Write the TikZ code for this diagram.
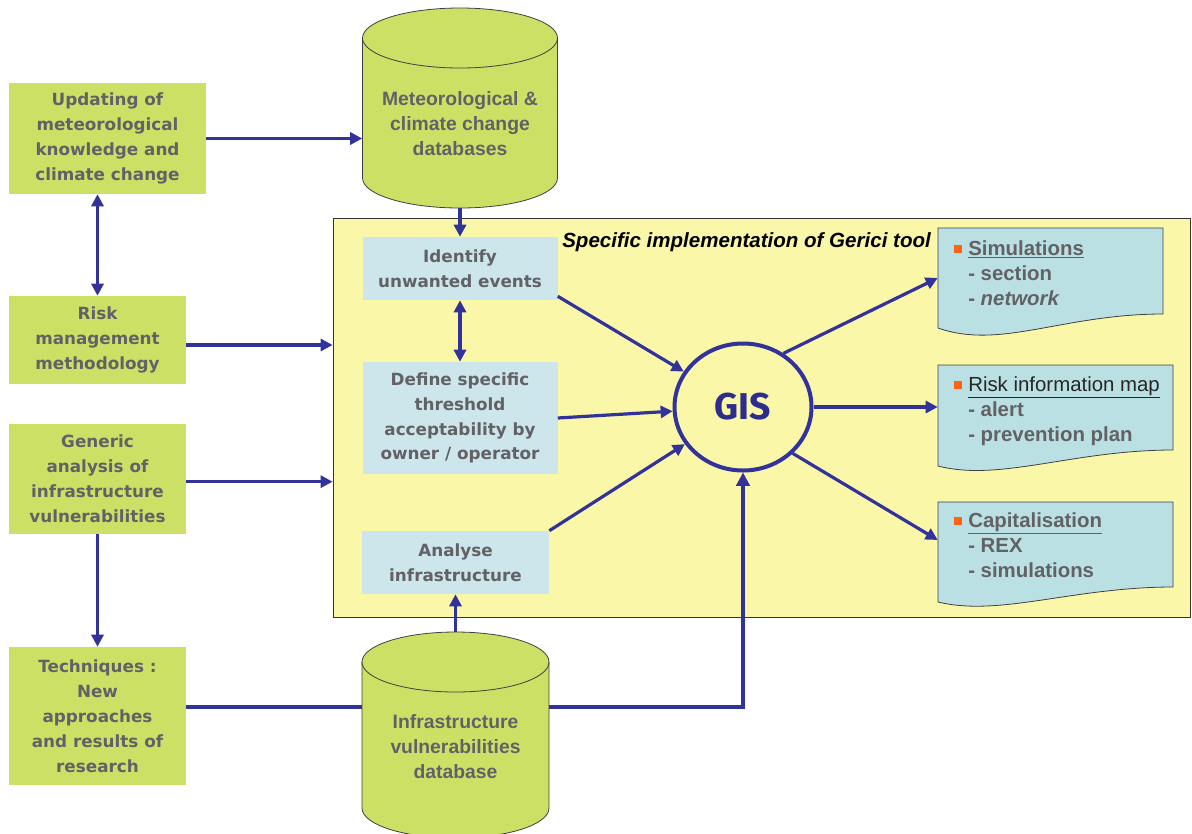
\documentclass[tikz,border=0pt]{standalone}
\usepackage{fontspec}
\setmainfont{Liberation Sans}
\newfontfamily\hum{DejaVu Sans}
\newfontfamily\gisfont{Fira Sans}
\usetikzlibrary{arrows.meta,shapes.geometric}
\definecolor{boxgreen}{RGB}{205,224,102}
\definecolor{panelyellow}{RGB}{250,247,168}
\definecolor{lightblue}{RGB}{204,230,235}
\definecolor{docblue}{RGB}{186,224,228}
\definecolor{arrowblue}{RGB}{50,50,155}
\definecolor{txtgray}{RGB}{98,98,102}
\definecolor{gisblue}{RGB}{45,45,140}
\definecolor{bulletorange}{RGB}{250,100,20}
\newcommand{\cylpath}[5]{%
  \filldraw[cylst] ({#1-#4},{#2+#5}) -- ({#1-#4},{#3-#5}) arc[start angle=180,end angle=0,x radius=#4,y radius=#5] -- ({#1+#4},{#2+#5}) arc[start angle=0,end angle=-180,x radius=#4,y radius=#5] -- cycle;
  \draw[cylst,fill=none] ({#1-#4},{#2+#5}) arc[start angle=180,end angle=0,x radius=#4,y radius=#5];}
\newcommand{\docpath}[6]{%
  \filldraw[docst] (#1,#2) -- (#3,#2) -- (#3,#5) .. controls ({#3-100},#5) and ({#1+62},#6) .. (#1,#4) -- cycle;}
\newcommand{\bul}{\llap{\textcolor{bulletorange}{\rule[1.5pt]{6pt}{6pt}}\hspace{5pt}}}
\begin{document}
\begin{tikzpicture}[x=0.75pt,y=-0.75pt,
  greenbox/.style={fill=boxgreen, align=center, text=txtgray, font=\hum\bfseries\fontsize{12.6}{18.8}\selectfont, inner sep=0pt},
  bluebox/.style={fill=lightblue, align=center, text=txtgray, font=\hum\bfseries\fontsize{12.6}{18.6}\selectfont, inner sep=0pt},
  cylst/.style={fill=boxgreen, draw=black!75, line width=0.6pt},
  cylholder/.style={inner sep=0pt, draw=none},
  cyltext/.style={align=center, text=txtgray, font=\bfseries\fontsize{14.5}{18.7}\selectfont, inner sep=0pt},
  docst/.style={fill=docblue, draw=black!75, line width=0.6pt},
  docholder/.style={inner sep=0pt, draw=none},
  doctext/.style={align=left, text=txtgray, font=\bfseries\fontsize{15.3}{18.75}\selectfont, inner sep=0pt, anchor=north west},
  arr/.style={draw=arrowblue, line width=2.4pt, -{Triangle[length=9pt,width=9pt]}},
  darr/.style={draw=arrowblue, line width=2.4pt, {Triangle[length=9pt,width=9pt]}-{Triangle[length=9pt,width=9pt]}},
  thickln/.style={draw=arrowblue, line width=3.6pt},
  thickarr/.style={draw=arrowblue, line width=3.2pt, -{Triangle[length=10pt,width=10pt]}}
]
\useasboundingbox[fill=white] (0,0) rectangle (1192,833);

% panel
\node[fill=panelyellow, draw=black!80, line width=0.6pt, minimum width=642.75pt, minimum height=299.25pt, inner sep=0pt] (panel) at (761.5,417.5) {};
\node[anchor=west, inner sep=0pt, font=\bfseries\itshape\fontsize{15.4}{17}\selectfont] (title) at (562,242) {Specific implementation of Gerici tool};

% left boxes
\node[greenbox, minimum width=147.75pt, minimum height=83.25pt] (box1) at (107.5,138.5) {Updating of\\meteorological\\knowledge and\\climate change};
\node[greenbox, minimum width=132.75pt, minimum height=66pt] (box2) at (97.5,340) {Risk\\management\\methodology};
\node[greenbox, minimum width=132.75pt, minimum height=82.5pt] (box3) at (97.5,479) {Generic\\analysis of\\infrastructure\\vulnerabilities};
\node[greenbox, minimum width=132.75pt, minimum height=103.5pt] (box4) at (97.5,716) {Techniques :\\New\\approaches\\and results of\\research};

% cylinders
\cylpath{460}{8}{208}{97.5}{30}
\node[cylholder, minimum width=146.25pt, minimum height=150pt] (met) at (460,108) {};
\node[cyltext] (mettxt) at (460,123.5) {Meteorological \&\\climate change\\databases};
\cylpath{455.5}{632}{838}{93.5}{30}
\node[cylholder, minimum width=140.25pt, minimum height=154.5pt] (infra) at (455.5,735) {};
\node[cyltext] (infratxt) at (455.5,747) {Infrastructure\\vulnerabilities\\database};

% inner boxes
\node[bluebox, minimum width=146.25pt, minimum height=47.25pt] (ident) at (460,268.5) {Identify\\unwanted events};
\node[bluebox, minimum width=146.25pt, minimum height=84pt] (define) at (460,418) {Define specific\\threshold\\acceptability by\\owner / operator};
\node[bluebox, minimum width=140.25pt, minimum height=47.25pt] (analyse) at (455.5,562.5) {Analyse\\infrastructure};

% GIS
\node[ellipse, draw=arrowblue, line width=3pt, minimum width=102.75pt, minimum height=95.25pt, inner sep=0pt, text=gisblue, font=\gisfont\bfseries\fontsize{28}{30}\selectfont] (gis) at (743,407) {GIS};

% documents
\docpath{938}{228}{1163}{328}{314}{350}
\node[docholder, minimum width=168.75pt, minimum height=75pt] (sim) at (1050.5,278) {};
\node[doctext] (simtxt) at (968,240) {\bul\underline{Simulations}\\- section\\- \textit{network}};
\docpath{938}{365}{1173}{466}{450}{482}
\node[docholder, minimum width=176.25pt, minimum height=75.75pt] (risk) at (1055.5,415.5) {};
\node[doctext] (risktxt) at (968,376) {\bul{\mdseries\color{black!85}\underline{Risk information map}}\\- alert\\- prevention plan};
\docpath{938}{502}{1173}{602}{587}{617}
\node[docholder, minimum width=176.25pt, minimum height=75pt] (cap) at (1055.5,552) {};
\node[doctext] (captxt) at (968,512) {\bul\underline{Capitalisation}\\- REX\\- simulations};

% connectors
\draw[arr] (box1.east) -- (box1.east -| met.west);
\draw[darr] (box2.north |- box1.south) -- (box2.north);
\draw[arr] ([yshift=-3.75pt]box2.east) -- ([yshift=-3.75pt]box2.east -| panel.west);
\draw[arr] ([yshift=-2pt]box3.east) -- ([yshift=-2pt]box3.east -| panel.west);
\draw[arr] (box3.south) -- (box4.north);
\draw[thickln] ([yshift=6.75pt]box4.east) -- ([yshift=6.75pt]box4.east -| infra.west);
\coordinate (j) at (743,707);
\draw[thickarr] ([yshift=6.75pt]box4.east -| infra.east) -- (j) -- (gis.south);
\draw[arr] (met.south) -- (ident.north);
\draw[darr] (ident.south) -- (define.north);
\draw[arr] (infra.north) -- (analyse.south);
\draw[arr] ([yshift=3pt]ident.south east) -- (gis);
\draw[arr] (define.east) -- (gis);
\draw[arr] (analyse.north east) -- (gis);
\draw[arr] (gis.53) -- (sim.west);
\draw[arr] (gis.east) -- (gis.east -| risk.west);
\draw[arr] (gis.-43) -- ([yshift=9pt]cap.west);
\end{tikzpicture}
\end{document}
